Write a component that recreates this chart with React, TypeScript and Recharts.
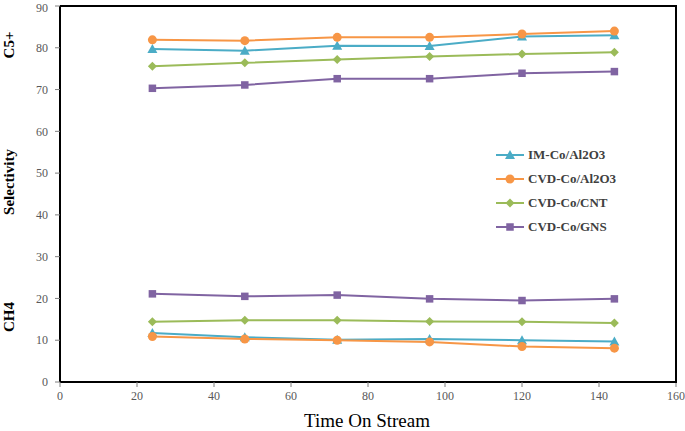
import React from "react";
import { LineChart, Line, XAxis, YAxis } from "recharts";

// Time on stream (h) and selectivities
const timeOnStream = [24, 48, 72, 96, 120, 144];

const imC5 = [79.7, 79.3, 80.5, 80.4, 82.7, 83.0];
const cvdAlC5 = [81.9, 81.7, 82.5, 82.5, 83.3, 84.0];
const cntC5 = [75.6, 76.4, 77.2, 77.9, 78.5, 78.9];
const gnsC5 = [70.3, 71.1, 72.6, 72.6, 73.9, 74.3];

const imCH4 = [11.7, 10.7, 10.1, 10.3, 10.0, 9.7];
const cvdAlCH4 = [10.9, 10.3, 10.0, 9.6, 8.5, 8.1];
const cntCH4 = [14.4, 14.8, 14.8, 14.5, 14.4, 14.1];
const gnsCH4 = [21.1, 20.5, 20.8, 19.9, 19.5, 19.9];

const xTicks = [0, 20, 40, 60, 80, 100, 120, 140, 160];
const yTicks = [0, 10, 20, 30, 40, 50, 60, 70, 80, 90];

const seriesNames = ["IM-Co/Al2O3", "CVD-Co/Al2O3", "CVD-Co/CNT", "CVD-Co/GNS"];

const BLUE = "#4BACC6";
const ORANGE = "#F79646";
const GREEN = "#9BBB59";
const PURPLE = "#8064A2";

const data = timeOnStream.map((t, i) => ({
  t,
  imC5: imC5[i],
  cvdAlC5: cvdAlC5[i],
  cntC5: cntC5[i],
  gnsC5: gnsC5[i],
  imCH4: imCH4[i],
  cvdAlCH4: cvdAlCH4[i],
  cntCH4: cntCH4[i],
  gnsCH4: gnsCH4[i],
}));

type Shape = "triangle" | "circle" | "diamond" | "square";

function marker(shape: Shape, color: string, cx: number, cy: number, key?: string) {
  if (shape === "triangle")
    return <path key={key} d={`M${cx},${cy - 5} L${cx + 5},${cy + 4} L${cx - 5},${cy + 4} Z`} fill={color} />;
  if (shape === "circle") return <circle key={key} cx={cx} cy={cy} r={4.5} fill={color} />;
  if (shape === "diamond")
    return <path key={key} d={`M${cx},${cy - 4.5} L${cx + 4.5},${cy} L${cx},${cy + 4.5} L${cx - 4.5},${cy} Z`} fill={color} />;
  return <rect key={key} x={cx - 3.75} y={cy - 3.75} width={7.5} height={7.5} fill={color} />;
}

const dotFor = (shape: Shape, color: string) => (p: any) =>
  marker(shape, color, p.cx, p.cy, `${shape}-${p.index}-${p.dataKey}`);

const seriesDefs: { c5: string; ch4: string; color: string; shape: Shape }[] = [
  { c5: "imC5", ch4: "imCH4", color: BLUE, shape: "triangle" },
  { c5: "cvdAlC5", ch4: "cvdAlCH4", color: ORANGE, shape: "circle" },
  { c5: "cntC5", ch4: "cntCH4", color: GREEN, shape: "diamond" },
  { c5: "gnsC5", ch4: "gnsCH4", color: PURPLE, shape: "square" },
];

const tickStyle = { fontSize: 12, fill: "#595959", fontFamily: "'Liberation Serif', serif" };
const serif = "'Liberation Serif', 'Times New Roman', serif";

export default function App() {
  return (
    <div style={{ position: "relative", width: 685, height: 431, background: "#fff", fontFamily: serif }}>
      <style>{`body{margin:0}`}</style>
      <LineChart width={685} height={431} data={data} margin={{ top: 6, right: 9, bottom: 19, left: 0 }}>
        <XAxis
          dataKey="t"
          type="number"
          domain={[0, 160]}
          ticks={xTicks}
          tick={tickStyle}
          tickSize={5}
          tickMargin={4}
          height={30}
          axisLine={{ stroke: "#000", strokeWidth: 2 }}
          tickLine={{ stroke: "#7f7f7f" }}
        />
        <YAxis
          type="number"
          domain={[0, 90]}
          ticks={yTicks}
          tick={tickStyle}
          tickSize={5}
          tickMargin={7}
          width={60}
          axisLine={{ stroke: "#000", strokeWidth: 2 }}
          tickLine={{ stroke: "#7f7f7f" }}
        />
        {seriesDefs.map((s) => (
          <Line
            key={s.c5}
            dataKey={s.c5}
            stroke={s.color}
            strokeWidth={2}
            dot={dotFor(s.shape, s.color)}
            activeDot={false}
            isAnimationActive={false}
          />
        ))}
        {seriesDefs.map((s) => (
          <Line
            key={s.ch4}
            dataKey={s.ch4}
            stroke={s.color}
            strokeWidth={2}
            dot={dotFor(s.shape, s.color)}
            activeDot={false}
            isAnimationActive={false}
          />
        ))}
      </LineChart>

      {/* top / right edges of the plot frame */}
      <div
        style={{
          position: "absolute",
          left: 60,
          top: 5,
          width: 615,
          height: 376,
          borderTop: "2px solid #000",
          borderRight: "2px solid #000",
          pointerEvents: "none",
        }}
      />

      {/* legend */}
      <div style={{ position: "absolute", left: 496, top: 143 }}>
        {seriesDefs.map((s, i) => (
          <div key={s.c5} style={{ display: "flex", alignItems: "center", height: 24 }}>
            <svg width={28} height={12}>
              <line x1={0} y1={6} x2={28} y2={6} stroke={s.color} strokeWidth={2} />
              {marker(s.shape, s.color, 14, 6)}
            </svg>
            <span style={{ marginLeft: 4, fontSize: 13, fontWeight: "bold", color: "#404040", fontFamily: serif }}>
              {seriesNames[i]}
            </span>
          </div>
        ))}
      </div>

      {/* axis titles */}
      {[
        { text: "C5+", y: 45 },
        { text: "Selectivity", y: 182 },
        { text: "CH4", y: 317 },
      ].map((l) => (
        <div
          key={l.text}
          style={{
            position: "absolute",
            left: 9,
            top: l.y,
            transform: "translate(-50%, -50%) rotate(-90deg)",
            fontSize: 15,
            fontWeight: "bold",
            whiteSpace: "nowrap",
            color: "#000",
            fontFamily: serif,
          }}
        >
          {l.text}
        </div>
      ))}
      <div
        style={{
          position: "absolute",
          left: 367,
          top: 421,
          transform: "translate(-50%, -50%)",
          fontSize: 19,
          whiteSpace: "nowrap",
          color: "#000",
          fontFamily: serif,
        }}
      >
        Time On Stream
      </div>
    </div>
  );
}
